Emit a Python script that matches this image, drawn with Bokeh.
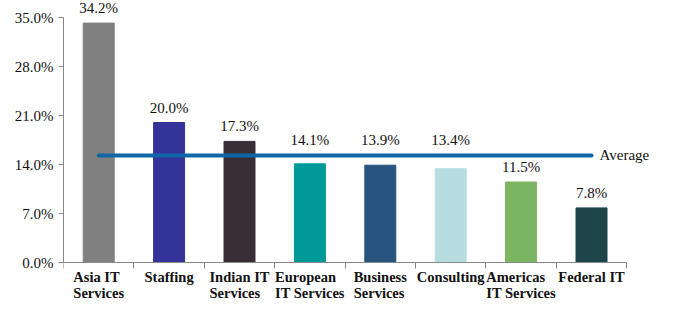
from bokeh.plotting import figure
from bokeh.models import (Range1d, FixedTicker, PrintfTickFormatter, CustomJSTickFormatter,
                          ColumnDataSource, LabelSet, Label)
from bokeh.embed import file_html
from bokeh.resources import INLINE

categories = ["Asia IT\nServices", "Staffing", "Indian IT\nServices", "European\nIT Services",
              "Business\nServices", "Consulting", "Americas\nIT Services", "Federal IT"]
values = [34.2, 20.0, 17.3, 14.1, 13.9, 13.4, 11.5, 7.8]
colors = ["#808080", "#333399", "#372E36", "#009999", "#28557F", "#B7DDE1", "#7CB562", "#1E4549"]
average = 15.3
y_ticks = [0, 7, 14, 21, 28, 35]

FONT = "Liberation Serif"
n = len(categories)
xs = [i + 0.5 for i in range(n)]
# value labels that would collide with the average line are lifted above it
label_y = [max(v, average) if v > average - 2.5 else v for v in values]

src = ColumnDataSource(dict(x=xs, top=values, ly=label_y, zero=[0] * n, color=colors,
                            cat=categories, label=["%.1f%%" % v for v in values]))

scale = (262 - 17) / 35.0
p = figure(width=661, height=302, output_backend="svg", toolbar_location=None,
           x_range=Range1d(0, 8.494), y_range=Range1d(-(302 - 262) / scale, 35 + 17 / scale),
           min_border_left=63, min_border_right=0, min_border_top=0, min_border_bottom=0)
p.outline_line_color = None
p.xgrid.grid_line_color = None
p.ygrid.grid_line_color = None

p.vbar(x="x", top="top", width=0.44, bottom=0, color="color", source=src)
p.add_layout(LabelSet(x="x", y="ly", text="label", source=src, text_align="center",
                      text_baseline="bottom", y_offset=7, text_font=FONT,
                      text_font_size="15px", text_color="#111111"))

p.line(x=[xs[0], xs[-1]], y=[average, average], line_color="#0F67A8", line_width=4, line_cap="round")
p.add_layout(Label(x=xs[-1], y=average, text="Average", x_offset=8, text_baseline="middle",
                   text_font=FONT, text_font_size="15px", text_color="#111111"))

p.add_layout(LabelSet(x="x", y="zero", text="cat", source=src, text_align="center",
                      text_baseline="top", y_offset=-6, text_font=FONT, text_font_style="bold",
                      text_font_size="14.5px", text_line_height=1.05, text_color="#111111"))

ya = p.yaxis[0]
ya.ticker = FixedTicker(ticks=y_ticks)
ya.formatter = PrintfTickFormatter(format="%.1f%%")
ya.bounds = (0, 35)
ya.axis_line_color = "#888888"
ya.major_tick_line_color = "#888888"
ya.major_tick_out = 5
ya.major_tick_in = 0
ya.minor_tick_line_color = None
ya.major_label_text_font = FONT
ya.major_label_text_font_size = "15px"
ya.major_label_text_color = "#111111"
ya.major_label_standoff = 5

xa = p.xaxis[0]
xa.fixed_location = 0
xa.bounds = (0, n)
xa.ticker = FixedTicker(ticks=[], minor_ticks=list(range(n + 1)))
xa.formatter = CustomJSTickFormatter(code="return '';")
xa.axis_line_color = "#888888"
xa.major_tick_line_color = None
xa.major_tick_out = 0
xa.major_tick_in = 0
xa.minor_tick_line_color = "#888888"
xa.minor_tick_out = 6
xa.minor_tick_in = 0
xa.major_label_text_font_size = "1px"

open("out.html", "w").write(file_html(p, INLINE))
